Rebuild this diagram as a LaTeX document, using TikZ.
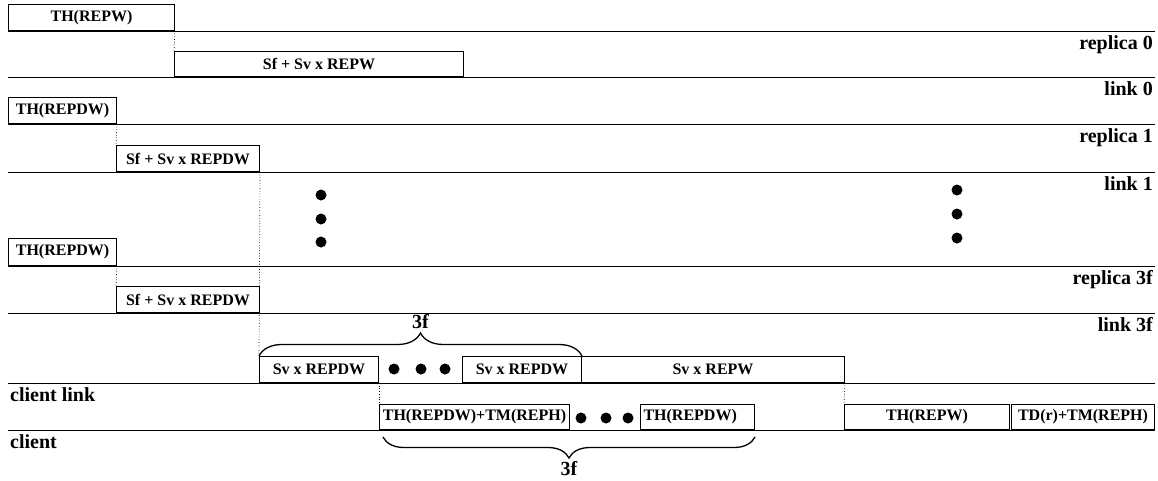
\documentclass[tikz,border=0pt]{standalone}
\usepackage{fontspec}
\setmainfont{Liberation Serif}
\usetikzlibrary{decorations.pathreplacing,positioning}

\begin{document}
\begin{tikzpicture}[x=1pt,y=-1pt,
  slot/.style={draw,line width=1pt,inner sep=0pt,anchor=south west,
    font=\bfseries\fontsize{16}{16}\selectfont},
  rowlabel/.style={inner sep=0pt,font=\bfseries\fontsize{20}{20}\selectfont},
  timeline/.style={line width=0.9pt},
  wait/.style={dotted,line width=0.7pt},
  dot/.style={circle,fill,inner sep=0pt,minimum size=11pt},
  grp/.style={decorate,line width=1.3pt,decoration={brace,amplitude=23pt}}]
  \useasboundingbox (0,0) rectangle (1158,480);
  %
  % time lines
  \foreach \y in {31,77,124,172,266,313,383,430}%
  \draw[timeline] (8,\y) -- (1155,\y);%
  %
  % row names
  \node[rowlabel,anchor=north east] (r0) at (1153,35) {replica 0};%
  \node[rowlabel,anchor=north east] (l0) at (1153,81) {link 0};%
  \node[rowlabel,anchor=north east] (r1) at (1153,128) {replica 1};%
  \node[rowlabel,anchor=north east] (l1) at (1153,176) {link 1};%
  \node[rowlabel,anchor=north east] (r3f) at (1153,270) {replica 3f};%
  \node[rowlabel,anchor=north east] (l3f) at (1153,317) {link 3f};%
  \node[rowlabel,anchor=north west] (cl) at (10,387) {client link};%
  \node[rowlabel,anchor=north west] (cc) at (10,434) {client};%
  %
  % replica 0
  \node[slot,minimum width=166pt,minimum height=26pt] (hw0) at (8,31) {TH(REPW)};%
  \node[slot,minimum width=289pt,minimum height=25pt] (sw0) at (174,77) {Sf + Sv x REPW};%
  % replica 1
  \node[slot,minimum width=108pt,minimum height=26pt] (hd1) at (8,124) {TH(REPDW)};%
  \node[slot,minimum width=143pt,minimum height=26pt] (sd1) at (116,172) {Sf + Sv x REPDW};%
  % replica 3f
  \node[slot,minimum width=108pt,minimum height=27pt] (hd3) at (8,266) {TH(REPDW)};%
  \node[slot,minimum width=143pt,minimum height=26pt] (sd3) at (116,313) {Sf + Sv x REPDW};%
  %
  % client link
  \node[slot,minimum width=119pt,minimum height=26pt] (cd1) at (259,383) {Sv x REPDW};%
  \node[slot,minimum width=119pt,minimum height=26pt] (cd3) at (462,383) {Sv x REPDW};%
  \node[slot,minimum width=263pt,minimum height=26pt] (cw) at (581,383) {Sv x REPW};%
  % client
  \node[slot,minimum width=190pt,minimum height=25pt] (ch1) at (379,430) {TH(REPDW)+TM(REPH)};%
  \node[slot,minimum height=25pt,inner xsep=3pt,text width=108pt,align=left] (ch3) at (640,430) {TH(REPDW)};%
  \node[slot,minimum width=165pt,minimum height=25pt] (chw) at (844,430) {TH(REPW)};%
  \node[slot,minimum width=143pt,minimum height=25pt] (ctd) at (1011,430) {TD(r)+TM(REPH)};%
  %
  % waiting
  \draw[wait] (hw0.south east) -- (sw0.north west);%
  \draw[wait] (hd1.south east) -- (sd1.north west);%
  \draw[wait] (hd3.south east) -- (sd3.north west);%
  \draw[wait] (sd1.south east) -- (cd1.north west);%
  \draw[wait] (cd1.south east) -- (ch1.north west);%
  \draw[wait] (cw.south east) -- (chw.north west);%
  %
  % omitted replicas and messages
  \foreach \x/\y in {321/195,321/219,321/242,957/190,957/214,957/238,%
    394/369,421/369,445/369,581/418,606/418,628/418}%
  \node[dot] at (\x,\y) {};%
  %
  \draw[grp] (cd1.north west) -- node[rowlabel,midway,above=27pt] (n1) {3f} (cd3.north east);%
  \draw[grp,decoration={mirror,amplitude=21pt}] ([shift={(4,7)}]ch1.south west) -- node[rowlabel,midway,below=24pt] (n2) {3f} ([shift={(0,7)}]ch3.south east);%
\end{tikzpicture}
\end{document}
